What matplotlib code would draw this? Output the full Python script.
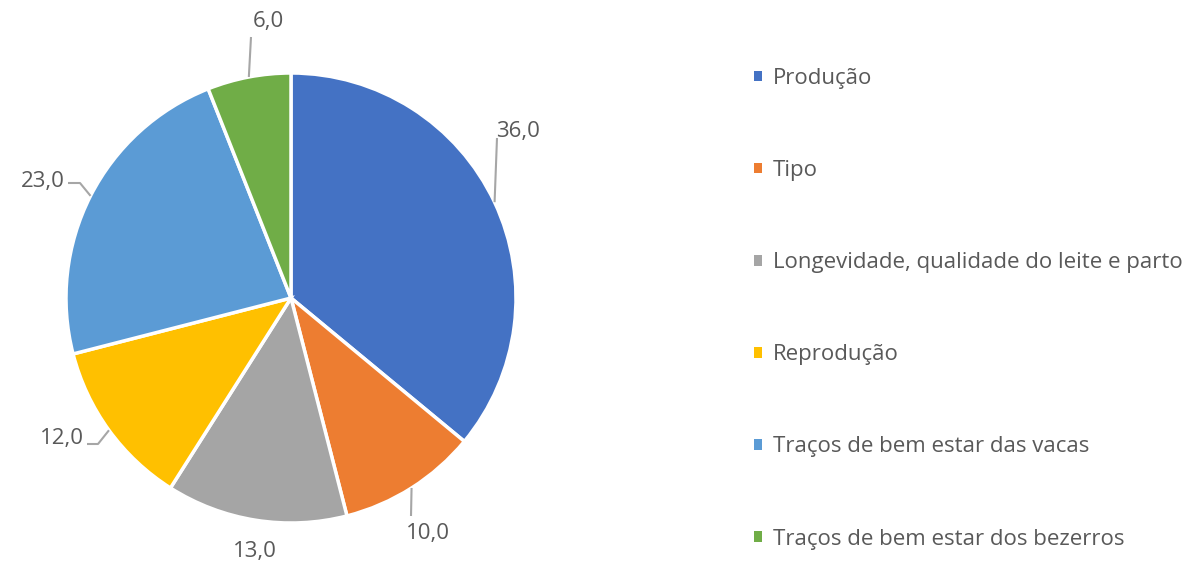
import numpy as np
import matplotlib
matplotlib.use("Agg")
import matplotlib.pyplot as plt
from matplotlib.patches import Patch

categories = ["Produção", "Tipo", "Longevidade, qualidade do leite e parto",
              "Reprodução", "Traços de bem estar das vacas", "Traços de bem estar dos bezerros"]
values = [36.0, 10.0, 13.0, 12.0, 23.0, 6.0]
colors = ["#4472C4", "#ED7D31", "#A5A5A5", "#FFC000", "#5B9BD5", "#70AD47"]

plt.rcParams['font.family'] = ['Open Sans', 'DejaVu Sans']
W, H = 1184, 568
fig = plt.figure(figsize=(W / 100, H / 100), dpi=100)

cx, cy, R = 291, 298, 225
ax = fig.add_axes([(cx - R) / W, (H - cy - R) / H, 2 * R / W, 2 * R / H])
wedges, _ = ax.pie(values, colors=colors, startangle=90, counterclock=False,
                   radius=1.0, wedgeprops=dict(edgecolor="white", linewidth=2.5))
ax.set_xlim(-1, 1)
ax.set_ylim(-1, 1)
ax.set_aspect("equal")
ax.axis("off")

def p2d(px, py):
    return ((px - cx) / R, (cy - py) / R)

label_col = "#595959"
line_col = "#A6A6A6"
fs = 16

# label placement (pixel coords of label anchor) and leader knee points
label_info = [
    dict(pos=(496, 131), ha="left", knee=[(497, 138)]),
    dict(pos=(406, 534), ha="left", knee=[(411, 516)]),
    dict(pos=(255, 552), ha="center", knee=None),
    dict(pos=(84, 439), ha="right", knee=[(98, 444), (87, 444)]),
    dict(pos=(65, 182), ha="right", knee=[(80, 183), (68, 183)]),
    dict(pos=(268, 22), ha="center", knee=[(251, 37)]),
]

for v, w, info in zip(values, wedges, label_info):
    mid = np.deg2rad((w.theta1 + w.theta2) / 2)
    ex, ey = np.cos(mid), np.sin(mid)
    if info["knee"]:
        pts = [(ex, ey)] + [p2d(*k) for k in info["knee"]]
        xs, ys = zip(*pts)
        ax.plot(xs, ys, color=line_col, lw=1.5, clip_on=False, solid_capstyle="butt")
    tx, ty = p2d(*info["pos"])
    ax.text(tx, ty, f"{v:.1f}".replace(".", ","), ha=info["ha"], va="center",
            fontsize=fs, color=label_col, clip_on=False)

handles = [Patch(facecolor=c, edgecolor="none") for c in colors]
leg = fig.legend(handles, categories, loc="upper left",
                 bbox_to_anchor=(754 / W, 1 - 68 / H), frameon=False,
                 fontsize=fs, labelcolor=label_col,
                 handlelength=0.36, handleheight=0.36, handletextpad=0.5,
                 labelspacing=3.2, borderaxespad=0, borderpad=0)

fig.savefig("out.png", dpi=100, facecolor="white")
